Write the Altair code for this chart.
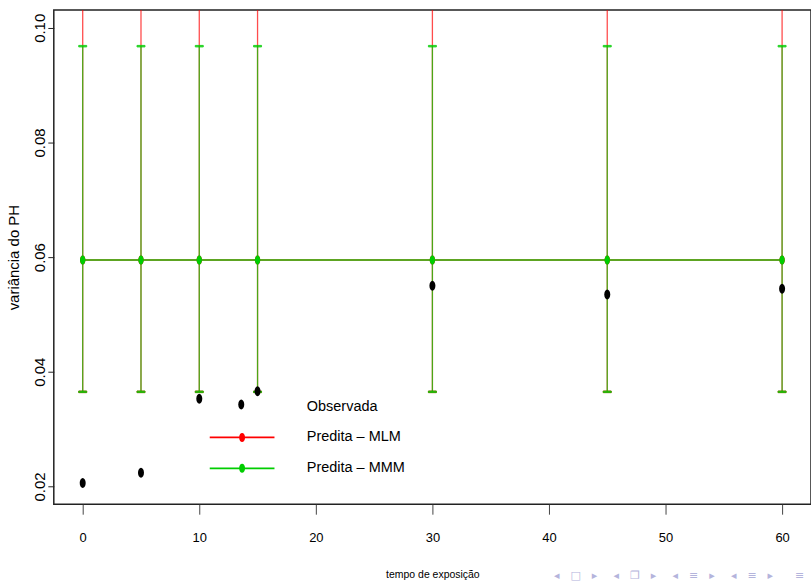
import altair as alt
import pandas as pd

# ---- data ----
obs_tempo = [0, 5, 10, 13.6, 15, 30, 45, 60]
obs_var = [0.0206, 0.0224, 0.0353, 0.0343, 0.0366, 0.0550, 0.0535, 0.0545]

pred_tempo = [0, 5, 10, 15, 30, 45, 60]
mlm_pred = [0.0595, 0.0595, 0.0595, 0.0595, 0.0595, 0.0595, 0.0595]
mlm_inf = [0.0365, 0.0365, 0.0365, 0.0365, 0.0365, 0.0365, 0.0365]
mlm_sup = [0.112, 0.112, 0.112, 0.112, 0.112, 0.112, 0.112]
mmm_pred = [0.0595, 0.0595, 0.0595, 0.0595, 0.0595, 0.0595, 0.0595]
mmm_inf = [0.0365, 0.0365, 0.0365, 0.0365, 0.0365, 0.0365, 0.0365]
mmm_sup = [0.0968, 0.0968, 0.0968, 0.0968, 0.0968, 0.0968, 0.0968]

series = ["Observada", "Predita – MLM", "Predita – MMM"]
series_colors = ["transparent", "#FF0000", "#00CD00"]

x_ticks = [0, 10, 20, 30, 40, 50, 60]
y_ticks = [0.02, 0.04, 0.06, 0.08, 0.10]
EM = "\u2003"
EN = "\u2002"
nav_text = ["◂" + EM + "□" + EM + "▸" + EM + EN + "◂" + EM + "❐" + EM + "▸"
            + EM + EN + "◂" + EM + "≡" + EM + "▸" + EM + EN + "◂" + EM + "≡"
            + EM + "▸" + EM + EM + "≡"]

# ---- tables ----
obs_df = pd.DataFrame({"tempo": obs_tempo, "var": obs_var})
pred_df = pd.concat([
    pd.DataFrame({"tempo": pred_tempo, "var": mlm_pred, "inf": mlm_inf,
                  "sup": mlm_sup, "serie": series[1]}),
    pd.DataFrame({"tempo": pred_tempo, "var": mmm_pred, "inf": mmm_inf,
                  "sup": mmm_sup, "serie": series[2]}),
], ignore_index=True)
legend_df = pd.DataFrame({"serie": series})
nav_df = pd.DataFrame({"t": nav_text})

FONT = "Liberation Sans"

xs = alt.Scale(domain=[-2.48, 62.48], nice=False, zero=False)
ys = alt.Scale(domain=[0.0169, 0.1031], nice=False, zero=False)
# marks scale: only the two predicted series
pred_scale = alt.Scale(domain=series[1:], range=series_colors[1:])
# legend scale: all three entries
legend_scale = alt.Scale(domain=series, range=series_colors)

ellipse = "M -0.6 0 A 0.6 1 0 1 1 0.6 0 A 0.6 1 0 1 1 -0.6 0 Z"
# legend key: a thin filled bar (the line) plus a filled ellipse (the dot)
legend_shape = ("M -1.444 -0.04 L 1.444 -0.04 L 1.444 0.04 L -1.444 0.04 Z "
                "M -0.133 0 A 0.133 0.2 0 1 1 0.133 0 "
                "A 0.133 0.2 0 1 1 -0.133 0 Z")

x_axis = alt.Axis(values=x_ticks, title="tempo de exposição", grid=False,
                  domain=False, tickSize=10, tickColor="#444",
                  labelFont=FONT, labelFontSize=13, labelColor="black",
                  labelBaseline="alphabetic", labelPadding=27,
                  titleFont=FONT, titleFontSize=10.5, titleFontWeight="normal",
                  titleColor="black", titleBaseline="alphabetic", titleY=74)
y_axis = alt.Axis(values=y_ticks, format=".2f", title="variância do PH",
                  grid=False, domain=False, tickSize=6, tickColor="#222",
                  labelFont=FONT, labelFontSize=15, labelColor="black",
                  labelAngle=-90, labelAlign="center",
                  labelBaseline="alphabetic", labelPadding=3,
                  titleFont=FONT, titleFontSize=15, titleFontWeight="normal",
                  titleColor="black", titleBaseline="middle", titleX=-40)

legend_def = alt.Legend(
    title=None, orient="none", legendX=166.5, legendY=375.5, padding=0,
    symbolOpacity=1, symbolStrokeWidth=0, symbolSize=2025,
    labelFont=FONT, labelFontSize=14.5, labelColor="black",
    labelOffset=42.5, rowPadding=2,
)

base = alt.Chart(pred_df)
layers = []
for s in series[1:]:
    sub = base.transform_filter(alt.datum.serie == s)
    layers.append(sub.mark_rule(strokeWidth=1.3, opacity=0.7, clip=True).encode(
        x=alt.X("tempo:Q", scale=xs, axis=x_axis),
        y=alt.Y("inf:Q", scale=ys, axis=y_axis),
        y2="sup:Q",
        stroke=alt.Stroke("serie:N", scale=pred_scale, legend=None)))
    for f in ["inf", "sup"]:
        layers.append(sub.mark_tick(orient="horizontal", size=8, thickness=1.5,
                                    opacity=0.85, clip=True).encode(
            x=alt.X("tempo:Q", scale=xs),
            y=alt.Y(f"{f}:Q", scale=ys),
            stroke=alt.Stroke("serie:N", scale=pred_scale, legend=None),
            fill=alt.Fill("serie:N", scale=pred_scale, legend=None)))
    layers.append(sub.mark_line(strokeWidth=1.6, opacity=0.85, clip=True).encode(
        x=alt.X("tempo:Q", scale=xs),
        y=alt.Y("var:Q", scale=ys),
        stroke=alt.Stroke("serie:N", scale=pred_scale, legend=None)))
    layers.append(sub.mark_point(filled=True, shape=ellipse, size=81,
                                 opacity=1, clip=True).encode(
        x=alt.X("tempo:Q", scale=xs),
        y=alt.Y("var:Q", scale=ys),
        fill=alt.Fill("serie:N", scale=pred_scale, legend=None)))

obs_layer = alt.Chart(obs_df).mark_point(
    filled=True, shape=ellipse, size=100, color="black", opacity=1
).encode(x=alt.X("tempo:Q", scale=xs), y=alt.Y("var:Q", scale=ys))

# legend carrier: its own marks sit off-canvas, only the legend is seen
legend_layer = alt.Chart(legend_df).mark_point(
    filled=True, opacity=1, size=2025, strokeWidth=0
).encode(
    x=alt.value(-2000), y=alt.value(-2000),
    color=alt.Color("serie:N", scale=legend_scale, legend=legend_def),
    shape=alt.Shape("serie:N", legend=legend_def,
                    scale=alt.Scale(domain=series,
                                    range=[legend_shape] * 3)),
)

nav_layer = alt.Chart(nav_df).mark_text(
    align="left", baseline="middle", font="DejaVu Sans", fontSize=11,
    color="#b4b4dc"
).encode(text="t:N", x=alt.value(502), y=alt.value(568))

chart = alt.layer(*layers, obs_layer, legend_layer, nav_layer).properties(
    width=760, height=496,
    autosize=alt.AutoSizeParams(type="none"),
    padding={"left": 54, "top": 9, "right": 0, "bottom": 81},
    background="white",
).configure_view(
    stroke="#222", strokeWidth=1.5
)

chart.save("out.html", embed_options={"renderer": "svg", "actions": False})
